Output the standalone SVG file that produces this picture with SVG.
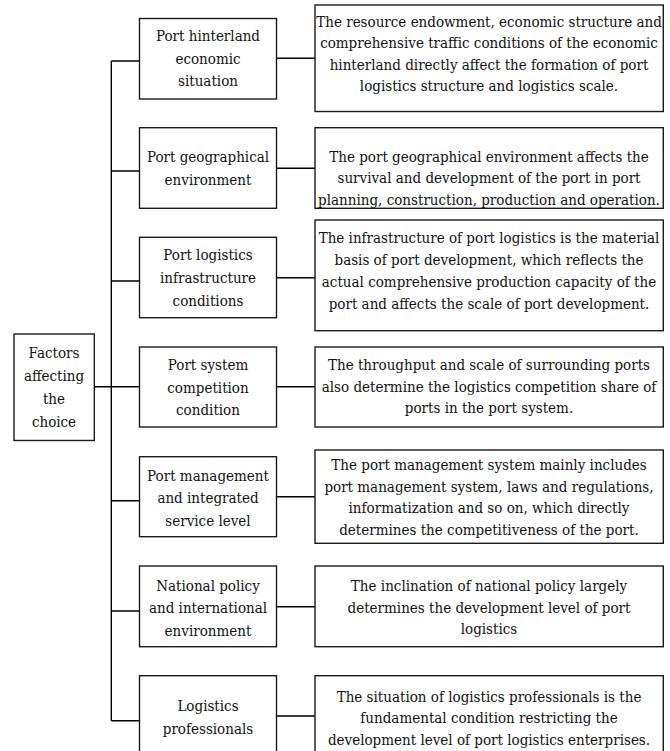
<svg xmlns="http://www.w3.org/2000/svg" width="670" height="751" viewBox="0 0 670 751" font-family="DejaVu Serif Condensed, DejaVu Serif, serif" font-stretch="condensed" font-size="15">
<style>
.box{fill:#fff;stroke:#1a1a1a;stroke-width:1.4}
.ln{fill:none;stroke:#000;stroke-width:1.4}
text{fill:#111;text-anchor:middle}
</style>
<rect width="670" height="751" fill="#fff"/>
<g id="connectors">
<path class="ln" d="M111.3,61 V720.7"/>
<path class="ln" d="M111.3,61 H139.5 M111.3,171 H139.5 M111.3,281 H139.5 M94.3,386.7 H139.5 M111.3,500.7 H139.5 M111.3,611 H139.5 M111.3,720.7 H139.5"/>
<path class="ln" d="M276.5,58.3 H315 M276.5,168.3 H315 M276.5,277.7 H315 M276.5,386.7 H315 M276.5,496.7 H315 M276.5,606.7 H315 M276.5,716 H315"/>
</g>
<g id="root">
<rect class="box" x="14" y="334" width="80.3" height="106.5"/>
<text x="54" y="358">Factors</text>
<text x="54" y="381">affecting</text>
<text x="54" y="404">the</text>
<text x="54" y="427">choice</text>
</g>
<g id="f1">
<rect class="box" x="139.5" y="18.5" width="137" height="80.5"/>
<text x="208" y="40.5">Port hinterland</text>
<text x="208" y="63.5">economic</text>
<text x="208" y="86">situation</text>
</g>
<g id="d1">
<rect class="box" x="315" y="5" width="348.3" height="106.5"/>
<text x="489" y="26.5">The resource endowment, economic structure and</text>
<text x="489" y="48">comprehensive traffic conditions of the economic</text>
<text x="489" y="69.5">hinterland directly affect the formation of port</text>
<text x="489" y="91">logistics structure and logistics scale.</text>
</g>
<g id="f2">
<rect class="box" x="139.5" y="127.7" width="137" height="80.6"/>
<text x="208" y="161.5">Port geographical</text>
<text x="208" y="184.5">environment</text>
</g>
<g id="d2">
<rect class="box" x="315" y="127.7" width="348.3" height="80.6"/>
<text x="489" y="162">The port geographical environment affects the</text>
<text x="489" y="183.3">survival and development of the port in port</text>
<text x="489" y="204.5">planning, construction, production and operation.</text>
</g>
<g id="f3">
<rect class="box" x="139.5" y="237.3" width="137" height="80.4"/>
<text x="208" y="260">Port logistics</text>
<text x="208" y="283">infrastructure</text>
<text x="208" y="306">conditions</text>
</g>
<g id="d3">
<rect class="box" x="315" y="220" width="348.3" height="110.7"/>
<text x="489" y="243">The infrastructure of port logistics is the material</text>
<text x="489" y="265">basis of port development, which reflects the</text>
<text x="489" y="287">actual comprehensive production capacity of the</text>
<text x="489" y="309">port and affects the scale of port development.</text>
</g>
<g id="f4">
<rect class="box" x="139.5" y="347" width="137" height="80"/>
<text x="208" y="370">Port system</text>
<text x="208" y="392.5">competition</text>
<text x="208" y="415">condition</text>
</g>
<g id="d4">
<rect class="box" x="315" y="347" width="348.3" height="80"/>
<text x="489" y="370">The throughput and scale of surrounding ports</text>
<text x="489" y="391.5">also determine the logistics competition share of</text>
<text x="489" y="413">ports in the port system.</text>
</g>
<g id="f5">
<rect class="box" x="139.5" y="456.7" width="137" height="80"/>
<text x="208" y="480.5">Port management</text>
<text x="208" y="503">and integrated</text>
<text x="208" y="525.5">service level</text>
</g>
<g id="d5">
<rect class="box" x="315" y="450" width="348.3" height="93.3"/>
<text x="489" y="470">The port management system mainly includes</text>
<text x="489" y="491.5">port management system, laws and regulations,</text>
<text x="489" y="513">informatization and so on, which directly</text>
<text x="489" y="534.5">determines the competitiveness of the port.</text>
</g>
<g id="f6">
<rect class="box" x="139.5" y="566" width="137" height="80.7"/>
<text x="208" y="590.5">National policy</text>
<text x="208" y="613">and international</text>
<text x="208" y="635.5">environment</text>
</g>
<g id="d6">
<rect class="box" x="315" y="566" width="348.3" height="80.7"/>
<text x="489" y="591">The inclination of national policy largely</text>
<text x="489" y="612.5">determines the development level of port</text>
<text x="489" y="634">logistics</text>
</g>
<g id="f7">
<rect class="box" x="139.5" y="675.7" width="137" height="90"/>
<text x="208" y="710.5">Logistics</text>
<text x="208" y="733.5">professionals</text>
</g>
<g id="d7">
<rect class="box" x="315" y="675.7" width="348.3" height="90"/>
<text x="489" y="701.5">The situation of logistics professionals is the</text>
<text x="489" y="723">fundamental condition restricting the</text>
<text x="489" y="744.5">development level of port logistics enterprises.</text>
</g>
</svg>
